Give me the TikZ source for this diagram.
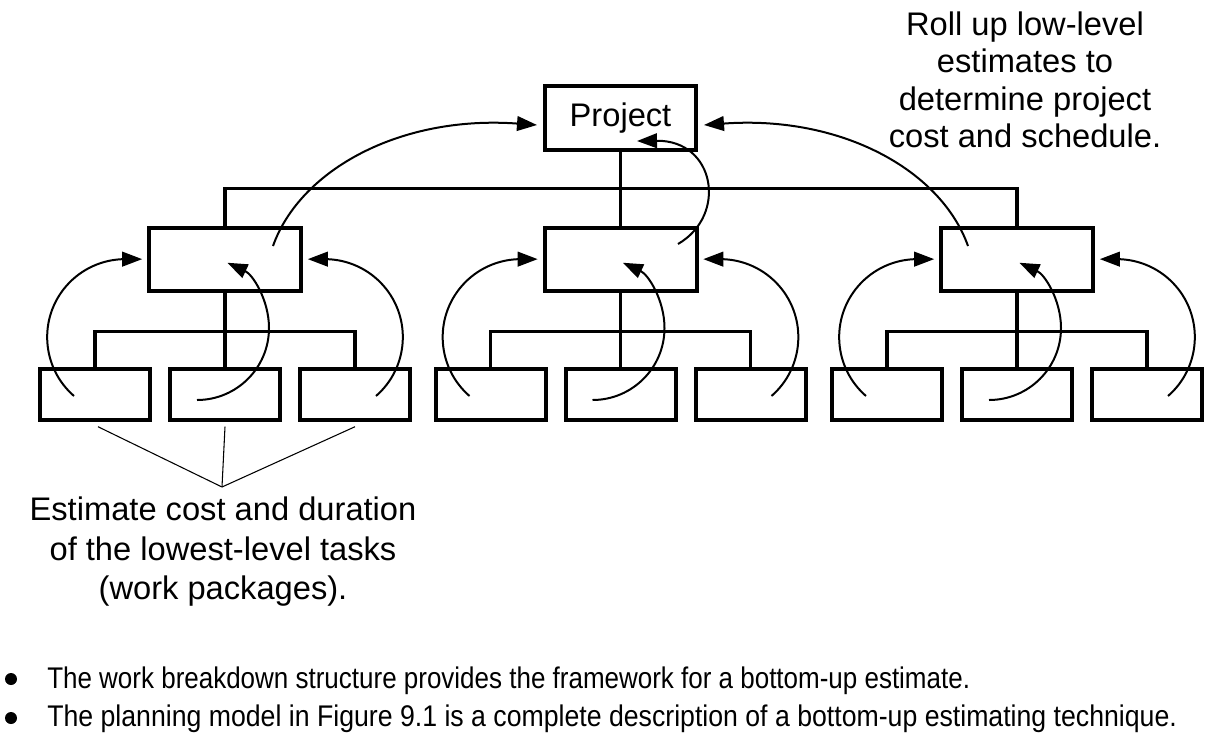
\documentclass[tikz,border=0pt]{standalone}
\usepackage{fontspec}
\setmainfont{Liberation Sans}
\newfontfamily\condfonta[FakeStretch=0.87]{Liberation Sans}
\newfontfamily\condfontb[FakeStretch=0.893]{Liberation Sans}
\usetikzlibrary{arrows.meta}
\begin{document}
\begin{tikzpicture}[x=0.75pt,y=-0.75pt,
  box/.style={draw, line width=3pt, inner sep=0pt, outer sep=0pt},
  projbox/.style={box, minimum width=113.3pt, minimum height=48pt},
  midbox/.style={box, minimum width=114pt, minimum height=47.2pt},
  wpbox/.style={box, minimum width=82.5pt, minimum height=38.2pt},
  link/.style={line width=2.8pt},
  roll/.style={line width=1.5pt, -{Triangle[length=15pt,width=11pt]}},
  pointer/.style={line width=0.8pt},
  bigtext/.style={font=\fontsize{24.5pt}{28pt}\selectfont, align=center, inner sep=0pt},
  bullettext/.style={inner sep=0pt, anchor=base west},
  dot/.style={circle, fill, inner sep=0pt, minimum size=9pt}]
\useasboundingbox (0,0) rectangle (1207,740);

% top node
\node[projbox, font=\fontsize{24.5pt}{28pt}\selectfont] (P) at (620.5,118) {Project};

% groups
\foreach \g/\c in {1/225, 2/620.5, 3/1017} {
  \node[midbox] (m\g) at (\c,259.5) {};
  \node[wpbox] (b\g-a) at (\c-130,394.5) {};
  \node[wpbox] (b\g-b) at (\c,394.5) {};
  \node[wpbox] (b\g-c) at (\c+130,394.5) {};
  \draw[link] (m\g.south) -- (b\g-b.north);
  \draw[link] (b\g-a.north) -- ++(0,-37.5) -| (b\g-c.north);
  % roll-up arrows from work packages
  \draw[roll] ([shift={(-151,136.5)}]m\g.center) arc[start angle=131, end angle=270, radius=78] -- ++(17,0);
  \draw[roll] ([shift={(151,136.5)}]m\g.center) arc[start angle=49, end angle=-90, radius=78] -- ++(-17,0);
  \draw[roll] ([shift={(-28,140.5)}]m\g.center) arc[start angle=90, end angle=-65, radius=72];
}

% top connectors
\draw[link] (P.south) -- (m2.north);
\draw[link] (m1.north) -- ++(0,-39.5) -| (m3.north);

% roll-up arrows to project
\draw[roll] ([shift={(48,-13.5)}]m1.center) .. controls +(27,-76) and +(-137,-10) .. ([shift={(-83.5,7)}]P.center);
\draw[roll] ([shift={(-49,-13.5)}]m3.center) .. controls +(-27,-76) and +(137,-10) .. ([shift={(83.5,7)}]P.center);
\draw[roll] ([shift={(57.5,-15.5)}]m2.center) .. controls +(50,-29) and +(78,-1) .. ([shift={(16.5,23)}]P.center);

% pointer to lowest-level tasks
\coordinate (E) at (222,487);
\draw[pointer] ([shift={(3,6.75)}]b1-a.south) -- (E);
\draw[pointer] ([shift={(0,6.75)}]b1-b.south) -- (E);
\draw[pointer] ([shift={(0,6.75)}]b1-c.south) -- (E);

% annotations
\node[bigtext, anchor=north, font=\fontsize{24.5pt}{29.6pt}\selectfont] (est) at (223,497)
  {Estimate cost and duration\\of the lowest-level tasks\\(work packages).};
\node[bigtext, anchor=north] (rolltxt) at (1025,11.6)
  {Roll up low-level\\estimates to\\determine project\\cost and schedule.};

% bullets
\node[dot] (d1) at (11,679) {};
\node[dot] (d2) at (11,718) {};
\node[bullettext, font=\condfonta\fontsize{22.4pt}{26pt}\selectfont] (t1) at (47,688) {The work breakdown structure provides the framework for a bottom-up estimate.};
\node[bullettext, font=\condfontb\fontsize{22.4pt}{26pt}\selectfont] (t2) at (47,726.5) {The planning model in Figure 9.1 is a complete description of a bottom-up estimating technique.};
\end{tikzpicture}
\end{document}
